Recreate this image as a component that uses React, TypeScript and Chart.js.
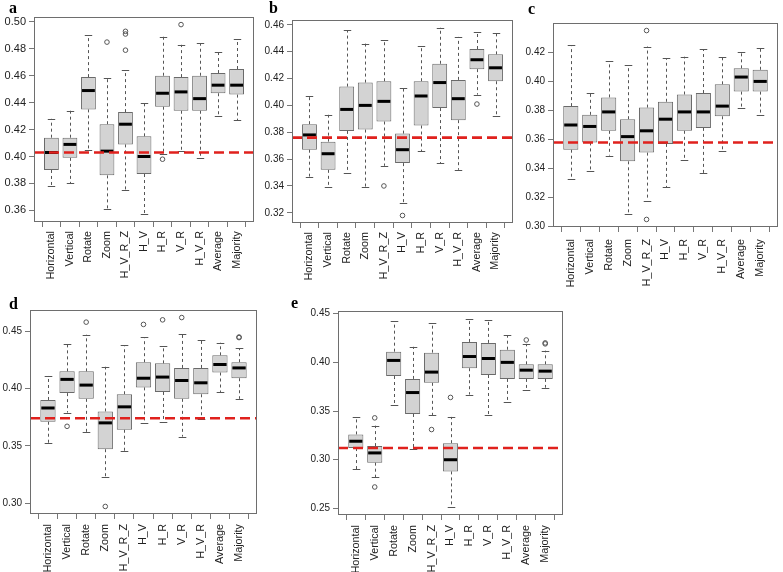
import React, { useEffect, useRef } from 'react';
import { Chart, registerables } from 'chart.js';

Chart.register(...registerables);

const categories = ['Horizontal', 'Vertical', 'Rotate', 'Zoom', 'H_V_R_Z', 'H_V', 'H_R', 'V_R', 'H_V_R', 'Average', 'Majority'];

// ---- panel a ----
const aMin = [0.378, 0.380, 0.405, 0.361, 0.375, 0.357, 0.402, 0.404, 0.399, 0.430, 0.427];
const aQ1 = [0.390, 0.399, 0.435, 0.386, 0.409, 0.387, 0.437, 0.434, 0.434, 0.447, 0.446];
const aMed = [0.403, 0.409, 0.449, 0.404, 0.424, 0.400, 0.447, 0.448, 0.443, 0.453, 0.453];
const aQ3 = [0.414, 0.414, 0.459, 0.424, 0.433, 0.415, 0.460, 0.459, 0.460, 0.462, 0.465];
const aMax = [0.428, 0.434, 0.490, 0.458, 0.464, 0.440, 0.489, 0.483, 0.484, 0.478, 0.487];
const aOutliers = [[3, 0.485], [4, 0.479], [4, 0.491], [4, 0.493], [6, 0.398], [7, 0.498]];
const aReference = 0.403;
const aTicks = [0.36, 0.38, 0.40, 0.42, 0.44, 0.46, 0.48, 0.50];

// ---- panel b ----
const bMin = [0.347, 0.339, 0.350, 0.339, 0.355, 0.327, 0.366, 0.357, 0.352, 0.408, 0.392];
const bQ1 = [0.367, 0.352, 0.381, 0.382, 0.388, 0.357, 0.385, 0.398, 0.389, 0.427, 0.418];
const bMed = [0.378, 0.364, 0.397, 0.400, 0.403, 0.367, 0.407, 0.417, 0.405, 0.434, 0.428];
const bQ3 = [0.386, 0.373, 0.414, 0.417, 0.418, 0.379, 0.418, 0.431, 0.419, 0.442, 0.438];
const bMax = [0.407, 0.393, 0.456, 0.446, 0.449, 0.413, 0.444, 0.458, 0.451, 0.455, 0.454];
const bOutliers = [[4, 0.340], [5, 0.318], [9, 0.401]];
const bReference = 0.376;
const bTicks = [0.32, 0.34, 0.36, 0.38, 0.40, 0.42, 0.44, 0.46];

// ---- panel c ----
const cMin = [0.333, 0.338, 0.349, 0.309, 0.318, 0.327, 0.346, 0.337, 0.352, 0.382, 0.377];
const cQ1 = [0.353, 0.358, 0.366, 0.345, 0.351, 0.357, 0.366, 0.368, 0.376, 0.393, 0.393];
const cMed = [0.370, 0.369, 0.379, 0.362, 0.366, 0.374, 0.379, 0.379, 0.383, 0.403, 0.400];
const cQ3 = [0.383, 0.377, 0.389, 0.374, 0.382, 0.386, 0.391, 0.392, 0.398, 0.409, 0.408];
const cMax = [0.425, 0.392, 0.414, 0.411, 0.424, 0.416, 0.417, 0.422, 0.417, 0.420, 0.423];
const cOutliers = [[4, 0.435], [4, 0.305]];
const cReference = 0.358;
const cTicks = [0.30, 0.32, 0.34, 0.36, 0.38, 0.40, 0.42];

// ---- panel d ----
const dMin = [0.352, 0.379, 0.362, 0.323, 0.345, 0.370, 0.371, 0.358, 0.373, 0.397, 0.391];
const dQ1 = [0.371, 0.396, 0.391, 0.347, 0.364, 0.401, 0.397, 0.391, 0.395, 0.414, 0.409];
const dMed = [0.383, 0.408, 0.403, 0.370, 0.384, 0.409, 0.410, 0.407, 0.405, 0.421, 0.418];
const dQ3 = [0.390, 0.415, 0.415, 0.380, 0.395, 0.423, 0.422, 0.418, 0.418, 0.429, 0.423];
const dMax = [0.411, 0.439, 0.447, 0.419, 0.438, 0.445, 0.437, 0.448, 0.442, 0.440, 0.435];
const dOutliers = [[1, 0.367], [2, 0.458], [3, 0.297], [5, 0.456], [6, 0.460], [7, 0.462], [10, 0.445], [10, 0.4445]];
const dReference = 0.374;
const dTicks = [0.30, 0.35, 0.40, 0.45];

// ---- panel e ----
const eMin = [0.290, 0.282, 0.356, 0.311, 0.346, 0.251, 0.367, 0.346, 0.359, 0.372, 0.374];
const eQ1 = [0.312, 0.297, 0.386, 0.347, 0.379, 0.288, 0.394, 0.387, 0.383, 0.383, 0.383];
const eMed = [0.319, 0.307, 0.402, 0.369, 0.390, 0.300, 0.406, 0.404, 0.400, 0.392, 0.391];
const eQ3 = [0.326, 0.314, 0.411, 0.383, 0.410, 0.317, 0.421, 0.420, 0.413, 0.398, 0.398];
const eMax = [0.344, 0.335, 0.442, 0.416, 0.440, 0.344, 0.445, 0.444, 0.428, 0.419, 0.412];
const eOutliers = [[1, 0.343], [1, 0.272], [4, 0.331], [5, 0.364], [9, 0.423], [10, 0.420], [10, 0.419]];
const eReference = 0.312;
const eTicks = [0.25, 0.30, 0.35, 0.40, 0.45];

type Panel = {
  letter: string;
  min: number[]; q1: number[]; med: number[]; q3: number[]; max: number[];
  outliers: number[][];
  reference: number;
  ticks: number[];
  plot: { left: number; top: number; width: number; height: number };
  yFont: number; xFont: number; xPad: number;
  letterPos: { left: number; top: number };
};

const panels: Panel[] = [
  { letter: 'a', min: aMin, q1: aQ1, med: aMed, q3: aQ3, max: aMax, outliers: aOutliers, reference: aReference, ticks: aTicks,
    plot: { left: 34, top: 17, width: 223, height: 205 }, yFont: 11, xFont: 10.8, xPad: 4, letterPos: { left: 9, top: 0 } },
  { letter: 'b', min: bMin, q1: bQ1, med: bMed, q3: bQ3, max: bMax, outliers: bOutliers, reference: bReference, ticks: bTicks,
    plot: { left: 292, top: 20, width: 224, height: 203 }, yFont: 10, xFont: 10.8, xPad: 4, letterPos: { left: 269, top: 0 } },
  { letter: 'c', min: cMin, q1: cQ1, med: cMed, q3: cQ3, max: cMax, outliers: cOutliers, reference: cReference, ticks: cTicks,
    plot: { left: 553, top: 23, width: 229, height: 204 }, yFont: 10, xFont: 10.8, xPad: 7, letterPos: { left: 528, top: 1 } },
  { letter: 'd', min: dMin, q1: dQ1, med: dMed, q3: dQ3, max: dMax, outliers: dOutliers, reference: dReference, ticks: dTicks,
    plot: { left: 30, top: 310, width: 230, height: 204 }, yFont: 10, xFont: 10.8, xPad: 5, letterPos: { left: 9, top: 296 } },
  { letter: 'e', min: eMin, q1: eQ1, med: eMed, q3: eQ3, max: eMax, outliers: eOutliers, reference: eReference, ticks: eTicks,
    plot: { left: 338, top: 311, width: 228, height: 204 }, yFont: 10, xFont: 10.8, xPad: 5, letterPos: { left: 291, top: 295 } },
];

const YW = 40;
const PT = 5;
const XH = 62;
const PAGE_W = 783;

const boxParts = (p: Panel) => ({
  id: 'boxParts' + p.letter,
  beforeDatasetsDraw(chart: any) {
    const { ctx, scales } = chart;
    const xs = scales.x, ys = scales.y;
    const meta = chart.getDatasetMeta(0);
    ctx.save();
    ctx.strokeStyle = '#555';
    ctx.lineWidth = 1;
    p.med.forEach((_, i) => {
      const x = Math.round(xs.getPixelForValue(i + 1)) + 0.5;
      const w = meta.data[i] ? meta.data[i].width : 15;
      const capHalf = w / 4;
      const yMax = ys.getPixelForValue(p.max[i]);
      const yQ3 = ys.getPixelForValue(p.q3[i]);
      const yQ1 = ys.getPixelForValue(p.q1[i]);
      const yMin = ys.getPixelForValue(p.min[i]);
      ctx.setLineDash([3, 3]);
      ctx.beginPath();
      ctx.moveTo(x, yQ3); ctx.lineTo(x, yMax);
      ctx.moveTo(x, yQ1); ctx.lineTo(x, yMin);
      ctx.stroke();
      ctx.setLineDash([]);
      ctx.beginPath();
      ctx.moveTo(x - capHalf, Math.round(yMax) + 0.5); ctx.lineTo(x + capHalf, Math.round(yMax) + 0.5);
      ctx.moveTo(x - capHalf, Math.round(yMin) + 0.5); ctx.lineTo(x + capHalf, Math.round(yMin) + 0.5);
      ctx.stroke();
    });
    ctx.restore();
  },
  afterDatasetsDraw(chart: any) {
    const { ctx, scales, chartArea } = chart;
    const xs = scales.x, ys = scales.y;
    const meta = chart.getDatasetMeta(0);
    ctx.save();
    ctx.strokeStyle = '#000';
    ctx.lineWidth = 3;
    p.med.forEach((m, i) => {
      const x = xs.getPixelForValue(i + 1);
      const w = meta.data[i] ? meta.data[i].width : 15;
      const y = ys.getPixelForValue(m);
      ctx.beginPath();
      ctx.moveTo(x - w / 2 + 1, y); ctx.lineTo(x + w / 2 - 1, y);
      ctx.stroke();
    });
    const yr = ys.getPixelForValue(p.reference);
    ctx.beginPath();
    ctx.rect(chartArea.left, chartArea.top, chartArea.right - chartArea.left, chartArea.bottom - chartArea.top);
    ctx.clip();
    ctx.strokeStyle = '#e0211d';
    ctx.lineWidth = 2.6;
    ctx.setLineDash([10, 5]);
    ctx.beginPath();
    ctx.moveTo(chartArea.left, yr); ctx.lineTo(chartArea.right, yr);
    ctx.stroke();
    ctx.restore();
  },
  afterDraw(chart: any) {
    const { ctx, chartArea } = chart;
    ctx.save();
    ctx.strokeStyle = '#6e6e6e';
    ctx.lineWidth = 1;
    ctx.strokeRect(Math.round(chartArea.left) + 0.5, Math.round(chartArea.top) + 0.5,
      Math.round(chartArea.right - chartArea.left) - 1, Math.round(chartArea.bottom - chartArea.top) - 1);
    ctx.restore();
  },
});

function BoxPanel({ p }: { p: Panel }) {
  const ref = useRef<HTMLCanvasElement | null>(null);
  const PR = Math.min(2, PAGE_W - (p.plot.left + p.plot.width));
  const cw = YW + p.plot.width + PR;
  const chh = PT + p.plot.height + XH;
  useEffect(() => {
    if (!ref.current) return;
    const all = [...p.min, ...p.max, ...p.outliers.map((o) => o[1])];
    const lo = Math.min(...all), hi = Math.max(...all);
    const ext = (hi - lo) * 0.04;
    const n = categories.length;
    const xExt = n * 0.04;
    const chart = new Chart(ref.current, {
      type: 'bar',
      data: {
        datasets: [
          {
            type: 'bar',
            data: categories.map((_, i) => ({ x: i + 1, y: [p.q1[i], p.q3[i]] })) as any,
            backgroundColor: '#d3d3d3',
            borderColor: '#6a6a6a',
            borderWidth: 1,
            borderSkipped: false,
            barPercentage: 0.8,
            categoryPercentage: 1,
            order: 2,
          } as any,
          {
            type: 'scatter',
            data: p.outliers.map((o) => ({ x: o[0] + 1, y: o[1] })),
            pointRadius: 2.3,
            pointBorderWidth: 1,
            pointBorderColor: '#555',
            pointBackgroundColor: 'rgba(0,0,0,0)',
            order: 1,
          } as any,
        ],
      },
      options: {
        responsive: false,
        maintainAspectRatio: false,
        animation: false,
        layout: { padding: { top: PT, right: PR, left: 0, bottom: 0 } },
        plugins: { legend: { display: false }, tooltip: { enabled: false } },
        scales: {
          x: {
            type: 'linear',
            min: 0.5 - xExt,
            max: n + 0.5 + xExt,
            offset: false,
            afterBuildTicks: (s: any) => { s.ticks = categories.map((_, i) => ({ value: i + 1 })); },
            afterFit: (s: any) => { s.height = XH; s.paddingLeft = 0; s.paddingRight = 0; },
            grid: { drawOnChartArea: false, drawTicks: true, tickLength: 5, color: '#777' },
            border: { display: false },
            ticks: {
              autoSkip: false,
              minRotation: 90,
              maxRotation: 90,
              padding: p.xPad,
              color: '#222',
              font: { family: 'Liberation Sans', size: p.xFont },
              callback: (_v: any, i: number) => categories[i],
            },
          },
          y: {
            type: 'linear',
            min: lo - ext,
            max: hi + ext,
            afterBuildTicks: (s: any) => { s.ticks = p.ticks.map((v) => ({ value: v })); },
            afterFit: (s: any) => { s.width = YW; s.paddingTop = 0; s.paddingBottom = 0; },
            grid: { drawOnChartArea: false, drawTicks: true, tickLength: 5, color: '#777' },
            border: { display: false },
            ticks: {
              padding: 3,
              color: '#222',
              font: { family: 'Liberation Sans', size: p.yFont },
              callback: (v: any) => Number(v).toFixed(2),
            },
          },
        },
      },
      plugins: [boxParts(p)],
    });
    return () => chart.destroy();
  }, []);
  return (
    <>
      <canvas
        ref={ref}
        width={cw}
        height={chh}
        style={{ position: 'absolute', left: p.plot.left - YW, top: p.plot.top - PT, width: cw, height: chh }}
      />
      <div style={{ position: 'absolute', left: p.letterPos.left, top: p.letterPos.top, fontFamily: 'Liberation Serif', fontWeight: 'bold', fontSize: 16, lineHeight: '16px' }}>
        {p.letter}
      </div>
    </>
  );
}

export default function App() {
  return (
    <div style={{ position: 'fixed', left: 0, top: 0, width: PAGE_W, height: 572, background: '#fff', overflow: 'hidden' }}>
      {panels.map((p) => <BoxPanel key={p.letter} p={p} />)}
    </div>
  );
}
